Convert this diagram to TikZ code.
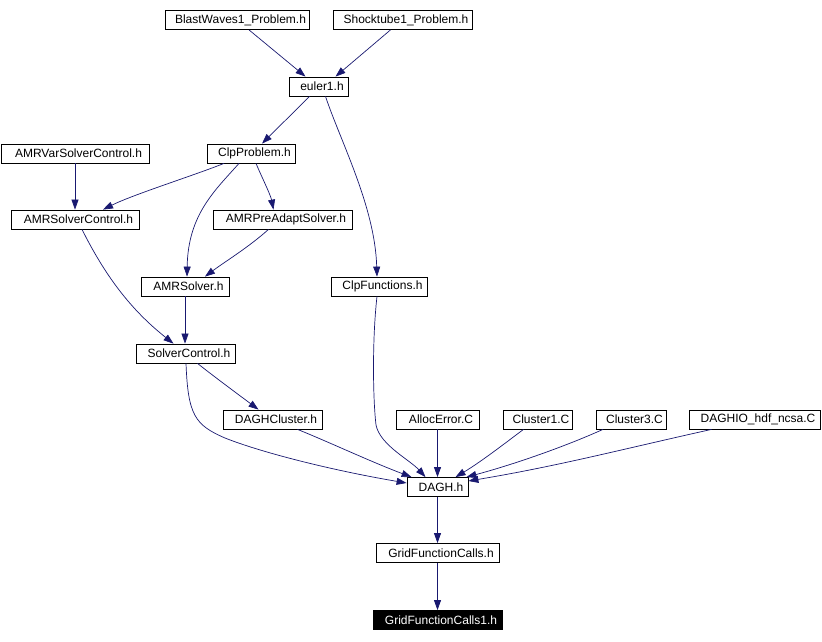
\documentclass[tikz,border=0pt]{standalone}
\usepackage{fontspec}
\setmainfont{Liberation Sans}
\usetikzlibrary{arrows.meta}
\definecolor{edgeblue}{RGB}{25,25,112}
\begin{document}
\begin{tikzpicture}[x=1pt,y=-1pt,
  file/.style={draw=black, fill=white, rectangle, inner sep=0pt, minimum height=19pt,
    font=\fontsize{12}{14}\selectfont, execute at begin node={\hspace*{7pt}}, line width=0.8pt},
  curfile/.style={file, fill=black, text=white},
  dep/.style={draw=edgeblue, line width=0.7pt, -{Triangle[length=10pt,width=7pt]}}]
\useasboundingbox (0,0) rectangle (822,642);

\node[file, minimum width=144pt] (bw) at (237,20) {BlastWaves1\_Problem.h};
\node[file, minimum width=139pt] (st) at (402.5,20) {Shocktube1\_Problem.h};
\node[file, minimum width=59pt] (eu) at (318.5,86.5) {euler1.h};
\node[file, minimum width=148pt] (amrvar) at (75,153.5) {AMRVarSolverControl.h};
\node[file, minimum width=88pt] (clpp) at (251,153.5) {ClpProblem.h};
\node[file, minimum width=128pt] (amrsc) at (75,219.5) {AMRSolverControl.h};
\node[file, minimum width=139pt] (pre) at (282.5,219.5) {AMRPreAdaptSolver.h};
\node[file, minimum width=88pt] (amrs) at (185,286.5) {AMRSolver.h};
\node[file, minimum width=96pt] (clpf) at (379,286.5) {ClpFunctions.h};
\node[file, minimum width=99pt] (sc) at (185.5,353.5) {SolverControl.h};
\node[file, minimum width=99pt] (dc) at (272.5,419.5) {DAGHCluster.h};
\node[file, minimum width=83pt] (ae) at (437.5,419.5) {AllocError.C};
\node[file, minimum width=69pt] (c1) at (537.5,419.5) {Cluster1.C};
\node[file, minimum width=70pt] (c3) at (631,419.5) {Cluster3.C};
\node[file, minimum width=131pt] (dio) at (754.5,419.5) {DAGHIO\_hdf\_ncsa.C};
\node[file, minimum width=61pt] (dagh) at (437.5,487) {DAGH.h};
\node[file, minimum width=123pt] (gfc) at (437.5,553) {GridFunctionCalls.h};
\node[curfile, minimum width=129pt] (gfc1) at (437.5,620) {GridFunctionCalls1.h};

\draw[dep] ([xshift=12pt]bw.south) -- ([xshift=-13pt]eu.north);
\draw[dep] ([xshift=-12pt]st.south) -- ([xshift=17pt]eu.north);
\draw[dep] ([xshift=-9pt]eu.south) -- ([xshift=11pt]clpp.north);
\draw[dep] ([xshift=7pt]eu.south) .. controls +(15,45) and +(-2,-70) .. ([xshift=-2pt]clpf.north);
\draw[dep] (amrvar.south) -- (amrvar.south |- amrsc.north);
\draw[dep] ([xshift=-27pt]clpp.south) .. controls +(-30,12) and +(30,-15) .. ([xshift=28pt]amrsc.north);
\draw[dep] ([xshift=-12pt]clpp.south) .. controls +(-24,27) and +(1,-62) .. ([xshift=2pt]amrs.north);
\draw[dep] ([xshift=5pt]clpp.south) .. controls +(5,12) and +(-3,-15) .. ([xshift=-9pt]pre.north);
\draw[dep] ([xshift=-14pt]pre.south) .. controls +(-20,18) and +(20,-15) .. ([xshift=20pt]amrs.north);
\draw[dep] ([xshift=7pt]amrsc.south) .. controls +(23,46) and +(-43,-34) .. ([xshift=-12pt]sc.north);
\draw[dep] (amrs.south) -- (amrs.south |- sc.north);
\draw[dep] ([xshift=12pt]sc.south) .. controls +(15,12) and +(-20,-15) .. ([xshift=-14pt]dc.north);
\draw[dep] ([xshift=0.5pt]sc.south) .. controls +(2,52) and (195,425) .. (225,438) .. controls (260,452) and (330,470) .. ([yshift=4pt]dagh.west);
\draw[dep] ([xshift=25pt]dc.south) .. controls +(30,12) and +(-40,-15) .. ([xshift=5pt]dagh.north west);
\draw[dep] ([xshift=-2pt]clpf.south) .. controls +(-5,44) and (373,400) .. (376,425) .. controls (380,445) and (410,460) .. ([xshift=-12pt]dagh.north);
\draw[dep] (ae.south) -- (ae.south |- dagh.north);
\draw[dep] ([xshift=-14pt]c1.south) .. controls +(-20,15) and +(25,-15) .. ([xshift=18pt]dagh.north);
\draw[dep] ([xshift=-28pt]c3.south) .. controls +(-40,18) and +(45,-12) .. ([xshift=-2pt]dagh.north east);
\draw[dep] ([xshift=-43pt]dio.south) .. controls +(-90,20) and +(90,-15) .. ([yshift=6pt]dagh.east);
\draw[dep] (dagh.south) -- (dagh.south |- gfc.north);
\draw[dep] (gfc.south) -- (gfc.south |- gfc1.north);
\end{tikzpicture}
\end{document}
